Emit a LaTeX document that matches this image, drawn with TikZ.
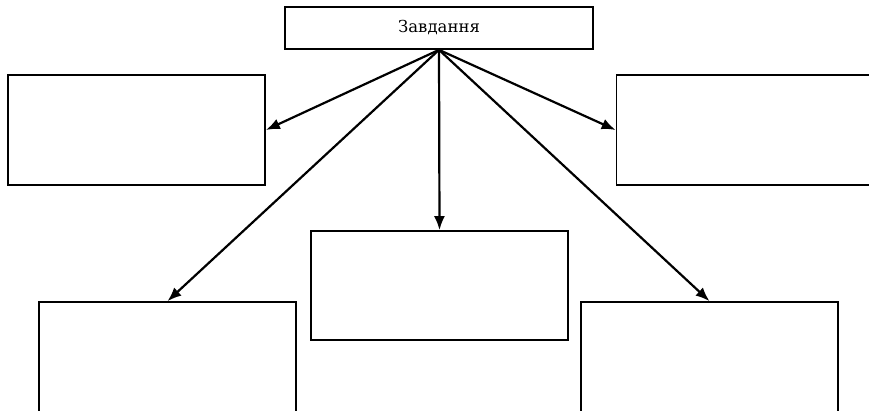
\documentclass[tikz,border=0pt]{standalone}
\usepackage{fontspec}
\setmainfont{DejaVu Serif}
\usetikzlibrary{arrows.meta}
\begin{document}
\begin{tikzpicture}[x=1pt,y=-1pt,
  box/.style={draw, line width=1.7pt, rectangle, inner sep=0pt, minimum width=257pt, minimum height=110pt},
  conn/.style={line width=2.2pt, -{Latex[length=14pt,width=11pt]}}]
\useasboundingbox (0,0) rectangle (869,410);
\clip (0,0) rectangle (869,410);
\node[draw, line width=1.7pt, inner sep=0pt, minimum width=308pt, minimum height=42pt, font=\fontsize{16.5}{18}\selectfont] (top) at (439,28) {Завдання};
\node[box] (left) at (136.5,130) {};
\node[box] (right) at (745,130) {};
\node[box, minimum height=109pt] (mid) at (439.5,285.5) {};
\node[box] (bl) at (167.5,357) {};
\node[box] (br) at (709.5,357) {};
\draw[conn] (top.south) -- (left.east);
\draw[conn] (top.south) -- (right.west);
\draw[conn] (top.south) -- (mid.north);
\draw[conn] (top.south) -- (bl.north);
\draw[conn] (top.south) -- (br.north);
\end{tikzpicture}
\end{document}
